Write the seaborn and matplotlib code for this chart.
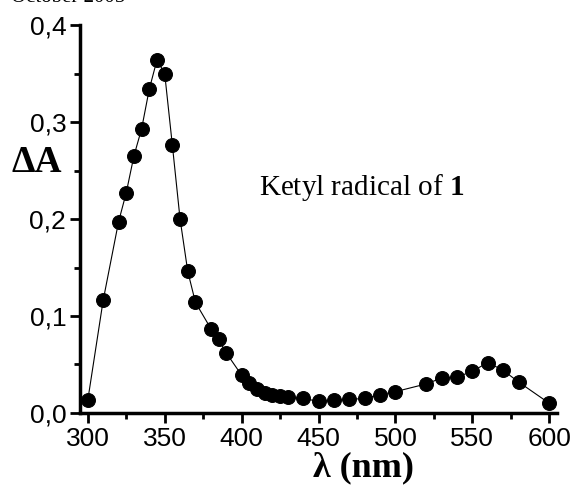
import numpy as np
import pandas as pd
import matplotlib
matplotlib.use('Agg')
import matplotlib.pyplot as plt
import seaborn as sns
from matplotlib.ticker import MultipleLocator, FuncFormatter

# Transient absorption spectrum values
wavelength = [300, 310, 320, 325, 330, 335, 340, 345, 350, 355, 360, 365, 370,
              380, 385, 390, 400, 405, 410, 415, 420, 425, 430, 440, 450, 460,
              470, 480, 490, 500, 520, 530, 540, 550, 560, 570, 580, 600]
delta_a = [0.013, 0.116, 0.197, 0.227, 0.265, 0.293, 0.334, 0.364, 0.350, 0.276,
           0.200, 0.146, 0.114, 0.087, 0.076, 0.062, 0.039, 0.031, 0.025, 0.021,
           0.019, 0.018, 0.016, 0.015, 0.012, 0.013, 0.014, 0.015, 0.019, 0.022,
           0.030, 0.036, 0.037, 0.043, 0.052, 0.044, 0.032, 0.010]

df = pd.DataFrame({'wl': wavelength, 'dA': delta_a})

sns.set_style('ticks', {'axes.edgecolor': 'black', 'xtick.color': 'black',
                        'ytick.color': 'black', 'text.color': 'black',
                        'axes.labelcolor': 'black'})
plt.rcParams['font.family'] = ['Liberation Sans', 'DejaVu Sans']
plt.rcParams['mathtext.fontset'] = 'custom'
plt.rcParams['mathtext.rm'] = 'Liberation Serif'
plt.rcParams['mathtext.bf'] = 'Liberation Serif:bold'

fig = plt.figure(figsize=(5.76, 4.88), dpi=100)
ax = fig.add_axes([0.139, 0.1537, 0.828, 0.795])

sns.lineplot(data=df, x='wl', y='dA', ax=ax, color='black', linewidth=0.8,
             marker='o', markersize=10, markeredgecolor='black',
             markerfacecolor='black')

ax.set_xlim(295, 605)
ax.set_ylim(0, 0.4)
ax.xaxis.set_major_locator(MultipleLocator(50))
ax.xaxis.set_minor_locator(MultipleLocator(25))
ax.yaxis.set_major_locator(MultipleLocator(0.1))
ax.yaxis.set_minor_locator(MultipleLocator(0.05))
ax.yaxis.set_major_formatter(FuncFormatter(lambda v, p: f'{v:.1f}'.replace('.', ',')))

ax.tick_params(which='major', direction='out', length=7, width=2, labelsize=19,
               pad=3, colors='black')
ax.tick_params(which='minor', direction='out', length=4, width=2, colors='black')
for s in ['left', 'bottom']:
    ax.spines[s].set_linewidth(2.5)
    ax.spines[s].set_color('black')
sns.despine(ax=ax)

ax.set_xlabel('λ (nm)', family='Liberation Serif', fontweight='bold', fontsize=26,
              color='black')
ax.xaxis.set_label_coords(0.595, -0.1)
ax.set_ylabel('ΔA', family='Liberation Serif', fontweight='bold', fontsize=27,
              rotation=0, va='center', ha='center', color='black')
ax.yaxis.set_label_coords(-0.09, 0.645)

ax.text(411, 0.233, 'Ketyl radical of $\\mathbf{1}$', family='Liberation Serif',
        fontsize=21, ha='left', va='center', color='black')

fig.text(0.217, 0.996, 'October 2005', family='Liberation Serif', fontsize=15,
         ha='right', va='baseline', color='black')

fig.savefig('out.png', dpi=100)
